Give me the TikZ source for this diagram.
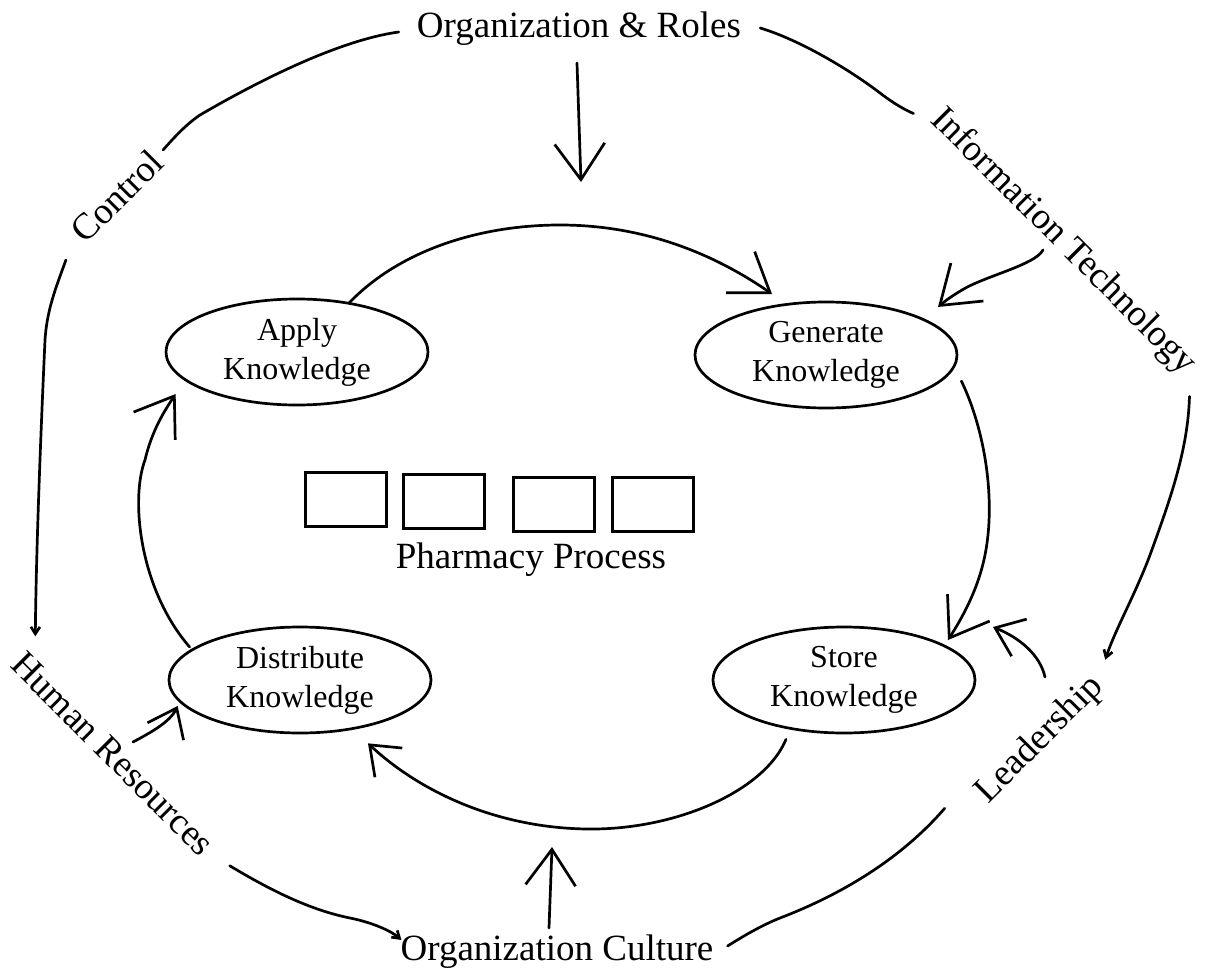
\documentclass[tikz,border=0pt]{standalone}
\usepackage{fontspec}
\setmainfont{Liberation Serif}
\usetikzlibrary{arrows.meta,shapes.geometric}
\begin{document}
\begin{tikzpicture}[x=1pt,y=-1pt,
  line/.style={line width=2.7pt,line cap=round,line join=round},
  bigarr/.style={line,-{Straight Barb[length=36pt,width=50pt]}},
  midarr/.style={line,-{Straight Barb[length=26pt,width=40pt]}},
  smallarr/.style={line,-{Straight Barb[length=7pt,width=9pt]}},
  lbl/.style={inner sep=0pt,font=\fontsize{37}{44}\selectfont},
  know/.style={draw,line width=2.7pt,ellipse,minimum width=262pt,minimum height=106pt,inner sep=0pt,align=center,font=\fontsize{32}{39}\selectfont},
  pbox/.style={draw,line width=3pt,minimum width=81pt,minimum height=54pt,inner sep=0pt}]
\useasboundingbox (0,0) rectangle (1208,969);

% knowledge ellipses
\node[know] (apply) at (297,352) {Apply\\Knowledge};
\node[know] (gen) at (826,355) {Generate\\Knowledge};
\node[know] (store) at (844,680) {Store\\Knowledge};
\node[know] (dist) at (300,680) {Distribute\\Knowledge};

% outer labels
\node[lbl,anchor=base] (roles) at (579,37) {Organization \& Roles};
\node[lbl,anchor=base] (culture) at (557,960) {Organization Culture};
\node[lbl,rotate=45] (control) at (117,196) {Control};
\node[lbl,rotate=-45] (it) at (1063,242) {Information Technology};
\node[lbl,rotate=-45] (hr) at (113,754) {Human Resources};
\node[lbl,rotate=45] (lead) at (1040,740) {Leadership};

% pharmacy process
\node[pbox] (b1) at (345.5,499) {};
\node[pbox] (b2) at (444,501.5) {};
\node[pbox] (b3) at (553.5,504) {};
\node[pbox] (b4) at (652.5,504) {};
\node[lbl,anchor=base] (pharm) at (531,568) {Pharmacy Process};

% free arrow ends
\coordinate (rolestip) at (581,182);
\coordinate (culttip) at (552,847);

% inner cycle
\draw[bigarr] ([shift={(52,-49)}]apply.center) .. controls (400,250) and (480,225) .. (560,225)
   .. controls (650,225) and (720,258) .. ([shift={(-54,-61)}]gen.center);
\draw[bigarr] ([shift={(3,26)}]gen.east) .. controls (985,430) and (996,500) .. (985,555)
   .. controls (978,590) and (962,618) .. ([shift={(104,-40)}]store.center);
\draw[midarr] ([shift={(-58,5)}]store.south) .. controls (765,790) and (680,828) .. (595,829)
   .. controls (500,830) and (420,792) .. ([shift={(68,9)}]dist.south);
\draw[bigarr] ([shift={(22,-33)}]dist.west) .. controls (140,590) and (130,500) .. (145,460)
   .. controls (152,430) and (165,410) .. ([shift={(11,42)}]apply.west);

% outer ring
\draw[line] ([shift={(-18,-5)}]roles.base west) .. controls (340,40) and (260,80) .. (200,115)
   .. controls (185,125) and (172,140) .. ([shift={(6,-6)}]control.east);
\draw[smallarr] ([shift={(-11,24)}]control.west) .. controls (55,290) and (47,310) .. (45,340)
   .. controls (40,450) and (36,560) .. ([shift={(18,-22)}]hr.west);
\draw[line] ([shift={(19,-9)}]roles.base east) .. controls (800,40) and (850,70) .. (880,93)
   .. controls (893,103) and (905,110) .. ([shift={(-22,-1)}]it.west);
\draw[smallarr] ([shift={(-1,27)}]it.east) .. controls (1188,450) and (1170,500) .. (1150,555)
   .. controls (1135,595) and (1115,630) .. ([shift={(7,-22)}]lead.east);
\draw[line] ([shift={(-37,10)}]lead.west) .. controls (900,860) and (840,895) .. (780,918)
   .. controls (760,926) and (742,937) .. ([shift={(14,-14)}]culture.base east);
\draw[smallarr] ([shift={(21,16)}]hr.east) .. controls (270,890) and (310,910) .. (350,918)
   .. controls (370,922) and (390,930) .. ([shift={(1,-20)}]culture.base west);

% influence arrows
\draw[bigarr] ([shift={(-2,26)}]roles.base) -- (rolestip);
\draw[bigarr] ([shift={(-20,8)}]it.center) .. controls (1035,265) and (985,276) .. (962,290)
   .. controls (952,296) and (945,301) .. ([shift={(112,-48)}]gen.center);
\draw[midarr] ([shift={(5,-63)}]lead.center) .. controls (1040,655) and (1020,638) .. ([shift={(149,-53)}]store.center);
\draw[midarr] ([shift={(20,-12)}]hr.center) .. controls (150,733) and (170,722) .. ([shift={(10,26)}]dist.west);
\draw[bigarr] ([shift={(-8,-32)}]culture.base) -- (culttip);
\end{tikzpicture}
\end{document}
